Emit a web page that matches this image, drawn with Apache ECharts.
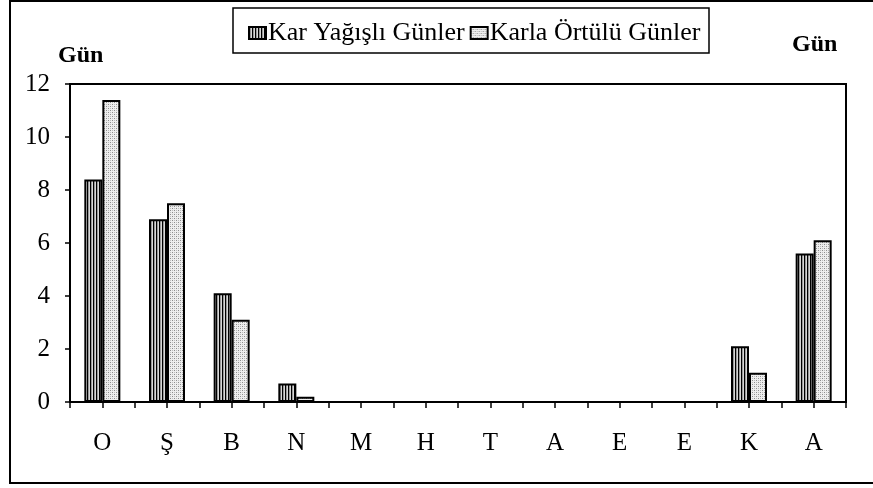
<!DOCTYPE html>
<html>
<head>
<meta charset="utf-8">
<script src="https://cdn.jsdelivr.net/npm/echarts@6/dist/echarts.min.js"></script>
<style>
  html, body { margin: 0; padding: 0; background: #fff; }
  #chart { width: 873px; height: 488px; }
</style>
</head>
<body>
<div id="chart"></div>
<script>
const months = ["O", "Ş", "B", "N", "M", "H", "T", "A", "E", "E", "K", "A"];
const karYagisli = [8.4, 6.9, 4.1, 0.7, 0, 0, 0, 0, 0, 0, 2.1, 5.6];
const karlaOrtulu = [11.4, 7.5, 3.1, 0.2, 0, 0, 0, 0, 0, 0, 1.1, 6.1];
const yTicks = [0, 2, 4, 6, 8, 10, 12];

function stripePattern() {
    const c = document.createElement("canvas");
    c.width = 3;
    c.height = 4;
    const ctx = c.getContext("2d");
    const cols = ["#000000", "#9a9a9a", "#d8d8d8"];
    cols.forEach(function (col, i) {
        ctx.fillStyle = col;
        ctx.fillRect(i, 0, 1, 4);
    });
    return c;
}

function dotPattern() {
    const c = document.createElement("canvas");
    c.width = 4;
    c.height = 4;
    const ctx = c.getContext("2d");
    ctx.fillStyle = "#eeeeee";
    ctx.fillRect(0, 0, 4, 4);
    ctx.fillStyle = "#8c8c8c";
    ctx.fillRect(0, 0, 1, 1);
    ctx.fillRect(2, 2, 1, 1);
    ctx.fillStyle = "#bdbdbd";
    ctx.fillRect(2, 0, 1, 1);
    ctx.fillRect(0, 2, 1, 1);
    return c;
}

const chart = echarts.init(document.getElementById("chart"));
const font = "Liberation Serif";

const option = {
    animation: false,
    backgroundColor: "#fff",
    textStyle: { fontFamily: font, color: "#000" },
    graphic: [
        {
            type: "rect",
            shape: { x: 10, y: 1, width: 870, height: 482 },
            style: { fill: "none", stroke: "#000", lineWidth: 2 },
            silent: true
        },
        {
            type: "rect",
            shape: { x: 233, y: 8, width: 476, height: 45 },
            style: { fill: "none", stroke: "#000", lineWidth: 1.5 },
            silent: true
        },
        {
            type: "text",
            left: 58,
            top: 44,
            style: { text: "Gün", font: "bold 24px " + font, fill: "#000" }
        },
        {
            type: "text",
            left: 792,
            top: 33,
            style: { text: "Gün", font: "bold 24px " + font, fill: "#000" }
        }
    ],
    legend: {
        left: 243,
        top: 15,
        itemWidth: 17,
        itemHeight: 12,
        itemGap: 5,
        icon: "rect",
        textStyle: { fontFamily: font, fontSize: 26, color: "#000", padding: [0, 0, 0, -3] },
        data: ["Kar Yağışlı Günler", "Karla Örtülü Günler"]
    },
    grid: {
        left: 70,
        right: 27,
        top: 84,
        bottom: 86,
        show: true,
        borderColor: "#000",
        borderWidth: 2
    },
    xAxis: [
        {
            type: "category",
            data: months,
            axisLine: { lineStyle: { color: "#000", width: 2 } },
            axisTick: { show: false },
            axisLabel: { fontFamily: font, fontSize: 25, color: "#000", margin: 29 }
        },
        {
            type: "value",
            position: "bottom",
            min: 0,
            max: 24,
            interval: 1,
            axisLine: { show: false },
            axisTick: { show: true, length: 6, lineStyle: { color: "#000", width: 1.5 } },
            axisLabel: { show: false },
            splitLine: { show: false }
        }
    ],
    yAxis: {
        type: "value",
        min: yTicks[0],
        max: yTicks[yTicks.length - 1],
        interval: 2,
        axisLine: { show: true, lineStyle: { color: "#000", width: 2 } },
        axisTick: { show: true, length: 5, lineStyle: { color: "#000", width: 1.5 } },
        axisLabel: { fontFamily: font, fontSize: 25, color: "#000", margin: 20 },
        splitLine: { show: false }
    },
    series: [
        {
            name: "Kar Yağışlı Günler",
            type: "bar",
            data: karYagisli,
            barWidth: 18,
            barGap: "0%",
            itemStyle: {
                color: { image: stripePattern(), repeat: "repeat" },
                borderColor: "#000",
                borderWidth: 2
            }
        },
        {
            name: "Karla Örtülü Günler",
            type: "bar",
            data: karlaOrtulu,
            barWidth: 18,
            barGap: "0%",
            itemStyle: {
                color: { image: dotPattern(), repeat: "repeat" },
                borderColor: "#000",
                borderWidth: 2
            }
        }
    ]
};

chart.setOption(option);
</script>
</body>
</html>
